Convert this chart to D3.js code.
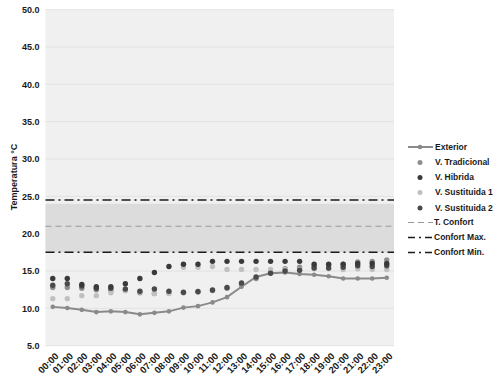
<!DOCTYPE html>
<html><head><meta charset="utf-8">
<script src="https://cdn.jsdelivr.net/npm/d3@7"></script>
<style>
body{margin:0;background:#fff;}
text{font-family:"Liberation Sans",Arial,sans-serif;font-weight:bold;fill:#1a1a1a;}
</style></head>
<body><svg id="c" width="503" height="378"></svg>
<script>
const hours = ["00:00","01:00","02:00","03:00","04:00","05:00","06:00","07:00","08:00","09:00","10:00","11:00","12:00","13:00","14:00","15:00","16:00","17:00","18:00","19:00","20:00","21:00","22:00","23:00"];
const exterior     = [10.2,10.05,9.8,9.5,9.6,9.5,9.2,9.4,9.6,10.1,10.3,10.8,11.5,12.9,14.2,14.7,14.8,14.6,14.5,14.3,14.0,14.0,14.0,14.1];
const tradicional  = [12.8,12.8,12.7,12.5,12.4,12.4,12.1,12.0,12.1,12.1,12.2,12.4,12.7,13.2,14.0,14.8,15.3,15.5,15.6,15.8,15.9,16.2,16.3,16.5];
const hibrida      = [14.0,14.0,13.2,12.9,12.9,13.3,14.0,14.8,15.6,15.9,15.9,16.3,16.3,16.3,16.3,16.3,16.3,16.3,15.9,15.9,15.9,16.0,16.0,16.0];
const sustituida1  = [11.3,11.3,11.7,11.7,12.1,12.4,12.2,12.0,12.0,15.5,15.5,15.6,15.2,15.2,15.2,15.2,15.2,15.2,15.3,15.3,15.2,15.3,15.2,15.2];
const sustituida2  = [13.1,13.3,13.0,12.7,12.7,12.6,12.3,12.6,12.3,12.15,12.25,12.45,12.8,13.4,14.2,14.7,15.0,15.1,15.4,15.4,15.5,15.7,15.6,15.7];
const tConfort = 21.0, confortMax = 24.5, confortMin = 17.5, bandLow = 17.5, bandHigh = 24.0;
const yTicks = [5,10,15,20,25,30,35,40,45,50];
const seriesNames = ["Exterior","V. Tradicional","V. Hibrida","V. Sustituida 1","V. Sustituida 2","T. Confort","Confort Max.","Confort Min."];

const svg = d3.select("#c");
const L = 45.5, R = 394, T = 9.7, B = 345.7;
const x = d3.scalePoint().domain(hours).range([L, R]).padding(0.5);
const y = d3.scaleLinear().domain([5, 50]).range([B, T]);

svg.append("rect").attr("x", L).attr("y", T).attr("width", R - L).attr("height", B - T).attr("fill", "#f0f0f0");
svg.append("g").selectAll("line").data(yTicks).join("line")
  .attr("x1", L).attr("x2", R).attr("y1", d => y(d)).attr("y2", d => y(d))
  .attr("stroke", "#e2e2e2").attr("stroke-width", 1);
svg.append("rect").attr("x", L).attr("width", R - L)
  .attr("y", y(bandHigh)).attr("height", y(bandLow) - y(bandHigh)).attr("fill", "#dcdcdc");

const yAxis = d3.axisLeft(y).tickValues(yTicks).tickFormat(d3.format(".1f")).tickSize(0).tickPadding(6);
const ga = svg.append("g").attr("transform", `translate(${L},0)`).call(yAxis);
ga.select(".domain").remove();
ga.selectAll("text").attr("font-size", 9).attr("font-family", "Liberation Sans, Arial, sans-serif").attr("font-weight", "bold").attr("fill", "#1a1a1a");

const xAxis = d3.axisBottom(x).tickSize(0).tickPadding(0);
const gx = svg.append("g").attr("transform", `translate(0,${B})`).call(xAxis);
gx.select(".domain").remove();
gx.selectAll("text").attr("font-size", 9.5).attr("font-family", "Liberation Sans, Arial, sans-serif")
  .attr("font-weight", "bold").attr("fill", "#1a1a1a")
  .attr("text-anchor", "end").attr("dy", null).attr("y", 0)
  .attr("transform", "translate(6,11) rotate(-45)");

svg.append("text").attr("transform", "translate(17,177) rotate(-90)").attr("text-anchor", "middle")
  .attr("font-size", 9).text("Temperatura °C");

function hline(v, dash, color, w) {
  svg.append("line").attr("x1", L).attr("x2", R).attr("y1", y(v)).attr("y2", y(v))
    .attr("stroke", color).attr("stroke-width", w).attr("stroke-dasharray", dash);
}
hline(tConfort, "6,4", "#999", 1.2);
hline(confortMax, "9,4,2,4", "#1a1a1a", 1.5);
hline(confortMin, "9,4,2,4", "#1a1a1a", 1.5);

const extColor = "#8a8a8a";
svg.append("path").datum(exterior)
  .attr("d", d3.line().x((d, i) => x(hours[i])).y(d => y(d)))
  .attr("fill", "none").attr("stroke", extColor).attr("stroke-width", 2);
svg.append("g").selectAll("circle").data(exterior).join("circle")
  .attr("cx", (d, i) => x(hours[i])).attr("cy", d => y(d)).attr("r", 2.3).attr("fill", extColor);

const scat = [
  {vals: tradicional, color: "#8e8e8e"},
  {vals: sustituida1, color: "#c0c0c0"},
  {vals: sustituida2, color: "#4a4a4a"},
  {vals: hibrida, color: "#3a3a3a"}
];
scat.forEach(s => {
  svg.append("g").selectAll("circle").data(s.vals).join("circle")
    .attr("cx", (d, i) => x(hours[i])).attr("cy", d => y(d)).attr("r", 2.7).attr("fill", s.color);
});

const lg = svg.append("g");
const ly = [147, 162.5, 177.5, 192.5, 208, 222.5, 237.5, 252.5];
const lx1 = 408, lx2 = 433, lcx = 420, ltx = 435;
lg.append("line").attr("x1", lx1).attr("x2", lx2).attr("y1", ly[0]).attr("y2", ly[0]).attr("stroke", extColor).attr("stroke-width", 2);
lg.append("circle").attr("cx", lcx).attr("cy", ly[0]).attr("r", 2.3).attr("fill", extColor);
const legDots = ["#8e8e8e", "#3a3a3a", "#c0c0c0", "#4a4a4a"];
legDots.forEach((c, i) => lg.append("circle").attr("cx", lcx).attr("cy", ly[i + 1]).attr("r", 2.5).attr("fill", c));
lg.append("line").attr("x1", lx1).attr("x2", lx2).attr("y1", ly[5]).attr("y2", ly[5]).attr("stroke", "#999").attr("stroke-width", 1.2).attr("stroke-dasharray", "6,4");
[6, 7].forEach(i => lg.append("line").attr("x1", lx1).attr("x2", lx2).attr("y1", ly[i]).attr("y2", ly[i])
  .attr("stroke", "#1a1a1a").attr("stroke-width", 1.5).attr("stroke-dasharray", "7,4,2,4"));
seriesNames.forEach((n, i) => lg.append("text").attr("x", i >= 5 ? ltx - 1 : ltx).attr("y", ly[i]).attr("dy", "0.35em")
  .attr("font-size", 8.5).text(n));
</script></body></html>
